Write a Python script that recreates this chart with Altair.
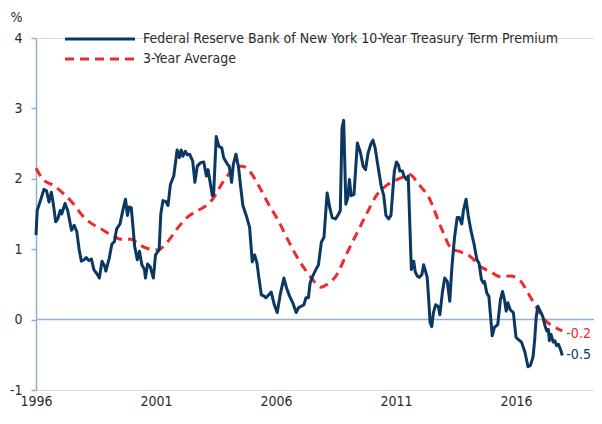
import altair as alt
import pandas as pd

FONT = "DejaVu Sans Condensed, Liberation Sans Narrow, sans-serif"
FS = 14
NAVY = "#0b3862"
RED = "#ee2a2e"
AXC = "#94afd6"
TXT = "#2b2b2b"

SERIES_A = "Federal Reserve Bank of New York 10-Year Treasury Term Premium"
SERIES_B = "3-Year Average"

# years since 1996 (decimal) and term premium values (%)
blue_t = [0.0, 0.05, 0.23, 0.33, 0.44, 0.54, 0.64, 0.71, 0.82, 0.91, 1.01, 1.07, 1.21, 1.32, 1.48, 1.59, 1.70, 1.80, 1.89, 2.00,
          2.09, 2.20, 2.31, 2.41, 2.54, 2.64, 2.75, 2.86, 2.91, 3.05, 3.16, 3.27, 3.36, 3.50, 3.63, 3.73, 3.81, 3.88, 3.97, 4.04,
          4.11, 4.22, 4.31, 4.41, 4.52, 4.56, 4.65, 4.76, 4.89, 4.98, 5.13, 5.20, 5.29, 5.40, 5.50, 5.60, 5.74, 5.88, 5.97, 6.05,
          6.12, 6.22, 6.31, 6.40, 6.53, 6.62, 6.72, 6.86, 6.99, 7.10, 7.17, 7.27, 7.35, 7.40, 7.51, 7.62, 7.74, 7.82, 7.99, 8.05,
          8.15, 8.22, 8.33, 8.44, 8.53, 8.62, 8.76, 8.90, 9.01, 9.11, 9.21, 9.28, 9.39, 9.48, 9.58, 9.69, 9.80, 9.93, 10.05, 10.19,
          10.33, 10.44, 10.57, 10.71, 10.84, 10.94, 11.05, 11.16, 11.25, 11.35, 11.42, 11.52, 11.66, 11.77, 11.89, 12.00, 12.13,
          12.24, 12.34, 12.48, 12.61, 12.68, 12.75, 12.82, 12.86, 12.91, 12.99, 13.06, 13.13, 13.25, 13.39, 13.52, 13.63, 13.73,
          13.84, 13.95, 14.04, 14.13, 14.24, 14.38, 14.49, 14.58, 14.69, 14.79, 14.86, 14.93, 15.02, 15.10, 15.16, 15.27, 15.33,
          15.43, 15.51, 15.58, 15.64, 15.74, 15.80, 15.88, 15.97, 16.08, 16.15, 16.22, 16.30, 16.36, 16.42, 16.49, 16.56, 16.65,
          16.76, 16.83, 16.93, 17.03, 17.14, 17.24, 17.33, 17.44, 17.55, 17.64, 17.74, 17.81, 17.92, 18.01, 18.12, 18.26, 18.37,
          18.46, 18.56, 18.64, 18.69, 18.78, 18.87, 18.94, 19.01, 19.10, 19.24, 19.35, 19.44, 19.52, 19.59, 19.66, 19.76, 19.89,
          20.00, 20.09, 20.23, 20.37, 20.50, 20.60, 20.71, 20.78, 20.84, 20.91, 21.01, 21.11, 21.21, 21.28, 21.35, 21.39, 21.46,
          21.55, 21.62, 21.69, 21.77, 21.87, 21.93]
blue_v = [1.20, 1.55, 1.74, 1.85, 1.83, 1.67, 1.81, 1.67, 1.39, 1.43, 1.55, 1.50, 1.65, 1.55, 1.27, 1.34, 1.25, 0.99, 0.83, 0.85,
          0.88, 0.84, 0.86, 0.71, 0.65, 0.59, 0.83, 0.76, 0.69, 0.87, 1.07, 1.11, 1.29, 1.36, 1.57, 1.71, 1.48, 1.60, 1.59, 1.32,
          1.04, 0.85, 0.97, 0.78, 0.71, 0.59, 0.79, 0.75, 0.59, 0.92, 0.99, 1.50, 1.69, 1.68, 1.62, 1.92, 2.04, 2.41, 2.30, 2.41,
          2.32, 2.39, 2.34, 2.35, 2.25, 1.95, 2.18, 2.23, 2.24, 2.04, 2.13, 1.92, 1.76, 1.78, 2.60, 2.46, 2.44, 2.30, 2.20, 2.18,
          1.95, 2.20, 2.35, 2.16, 1.88, 1.62, 1.48, 1.31, 0.82, 0.92, 0.80, 0.61, 0.35, 0.34, 0.31, 0.35, 0.39, 0.21, 0.10, 0.38,
          0.59, 0.45, 0.33, 0.23, 0.10, 0.17, 0.19, 0.21, 0.31, 0.31, 0.52, 0.61, 0.71, 0.78, 1.10, 1.17, 1.80,
          1.59, 1.45, 1.43, 1.50, 1.55, 2.72, 2.83, 2.30, 1.64, 1.73, 1.99, 1.76, 1.78, 2.51, 2.37, 2.18, 2.13,
          2.37, 2.49, 2.55, 2.44, 2.20, 1.90, 1.76, 1.48, 1.43, 1.48, 1.80, 2.11, 2.24, 2.20, 2.11, 2.11, 2.04,
          1.99, 2.04, 1.31, 0.71, 0.83, 0.68, 0.62, 0.60, 0.64, 0.78, 0.70, 0.60, 0.30, -0.04, -0.10, 0.10, 0.21,
          0.19, 0.07, 0.38, 0.59, 0.54, 0.26, 0.75, 1.17, 1.45, 1.45, 1.36, 1.55, 1.71, 1.48, 1.27, 1.06, 0.85,
          0.80, 0.57, 0.52, 0.54, 0.38, 0.33, 0.05, -0.23, -0.11, -0.07, 0.28, 0.40, 0.28, 0.12, 0.24, 0.14, 0.10,
          -0.25, -0.28, -0.32, -0.46, -0.67, -0.65, -0.53, -0.28, 0.03, 0.19, 0.12, 0.05, -0.09, -0.16, -0.14, -0.30, -0.21,
          -0.32, -0.30, -0.37, -0.35, -0.44, -0.51]

red_t = [0.0, 0.30, 0.71, 1.11, 1.52, 1.93, 2.34, 2.75, 3.16, 3.56, 3.97, 4.24, 4.65, 5.06, 5.47, 5.88, 6.29, 6.69, 7.10, 7.38,
         7.78, 8.19, 8.33, 8.60, 8.87, 9.28, 9.69, 10.09, 10.50, 10.91, 11.32, 11.59, 11.87, 12.13, 12.54, 12.95, 13.36, 13.77,
         14.18, 14.58, 14.99, 15.40, 15.56, 15.95, 16.36, 16.90, 17.31, 17.71, 18.12, 18.53, 18.94, 19.35, 19.76, 20.16, 20.50,
         20.84, 21.18, 21.52, 21.93]
red_v = [2.15, 1.99, 1.91, 1.80, 1.66, 1.48, 1.36, 1.28, 1.20, 1.14, 1.14, 1.08, 1.01, 0.99, 1.10, 1.29, 1.45, 1.54, 1.62, 1.72,
         1.95, 2.13, 2.18, 2.18, 2.12, 1.90, 1.64, 1.41, 1.13, 0.87, 0.66, 0.54, 0.46, 0.50, 0.64, 0.94, 1.22, 1.50,
         1.76, 1.90, 1.98, 2.04, 2.06, 1.92, 1.74, 1.29, 1.01, 0.96, 0.89, 0.75, 0.68, 0.61, 0.62, 0.56, 0.38,
         0.18, 0.00, -0.09, -0.16]

end_labels = ["-0.2", "-0.5"]
end_values = [-0.2, -0.5]

x_ticks = [1996, 2001, 2006, 2011, 2016]
y_ticks = [-1, 0, 1, 2, 3, 4]

blue_df = pd.DataFrame({"year": [1996 + t for t in blue_t], "value": blue_v})
red_df = pd.DataFrame({"year": [1996 + t for t in red_t], "value": red_v})
lab_df = pd.DataFrame({
    "year": [1996 + red_t[-1], 1996 + blue_t[-1]],
    "value": end_values,
    "label": end_labels,
    "series": [SERIES_B, SERIES_A],
})
zero_df = pd.DataFrame({"value": [0]})

xs = alt.Scale(domain=[1996, 2019.25], nice=False, zero=False)
ys = alt.Scale(domain=[-1, 4], nice=False, zero=False)

x_axis = alt.Axis(values=x_ticks, format="d", domain=False, ticks=False, grid=False, labelFlush=False,
                  labelFont=FONT, labelFontSize=FS, labelColor=TXT, labelPadding=4, title=None)
y_axis = alt.Axis(values=y_ticks, labelExpr="'' + datum.value", grid=False, domainColor=AXC, domainWidth=1.5,
                  tickColor=AXC, tickWidth=1.5, tickSize=5, labelPadding=9, labelFlush=False,
                  labelFont=FONT, labelFontSize=FS, labelColor=TXT,
                  title="%", titleAngle=0, titleAlign="center", titleBaseline="middle",
                  titleX=-20, titleY=-21, titleFont=FONT, titleFontSize=FS,
                  titleFontWeight="normal", titleColor=TXT)

X = alt.X("year:Q", scale=xs, axis=x_axis)
Y = alt.Y("value:Q", scale=ys, axis=y_axis)

zero = alt.Chart(zero_df).mark_rule(color=AXC, strokeWidth=1.5).encode(y=Y)

blue = alt.Chart(blue_df).mark_line(color=NAVY, strokeWidth=3, strokeJoin="round").encode(x=X, y=Y)
red = alt.Chart(red_df).mark_line(color=RED, strokeWidth=3, strokeDash=[9, 6],
                                   interpolate="monotone").encode(x=X, y=Y)

labels = alt.Chart(lab_df).mark_text(align="left", baseline="middle", dx=4, font=FONT, fontSize=FS).encode(
    x=X, y=Y, text="label:N",
    color=alt.Color("series:N", scale=alt.Scale(domain=[SERIES_A, SERIES_B], range=[NAVY, RED]), legend=None),
)

leg_a = pd.DataFrame({"name": [SERIES_A]})
leg_b = pd.DataFrame({"name": [SERIES_B]})

leg_line_a = alt.Chart(leg_a).mark_rule(color=NAVY, strokeWidth=3).encode(
    x=alt.value(29), x2=alt.value(99), y=alt.value(1))
leg_line_b = alt.Chart(leg_b).mark_rule(color=RED, strokeWidth=3, strokeDash=[9, 6]).encode(
    x=alt.value(29), x2=alt.value(99), y=alt.value(21))
leg_text_a = alt.Chart(leg_a).mark_text(align="left", baseline="middle", font=FONT, fontSize=FS, color=TXT).encode(
    x=alt.value(107), y=alt.value(1), text="name:N")
leg_text_b = alt.Chart(leg_b).mark_text(align="left", baseline="middle", font=FONT, fontSize=FS, color=TXT).encode(
    x=alt.value(107), y=alt.value(21), text="name:N")

chart = alt.layer(
    zero, red, blue, labels, leg_line_a, leg_line_b, leg_text_a, leg_text_b
).properties(
    width=558, height=352,
    autosize=alt.AutoSizeParams(type="none"),
    padding={"left": 28, "top": 30, "right": 0, "bottom": 20},
).configure_view(stroke=None).configure(background="white")

chart.save("out.html", embed_options={"renderer": "svg", "actions": False})
